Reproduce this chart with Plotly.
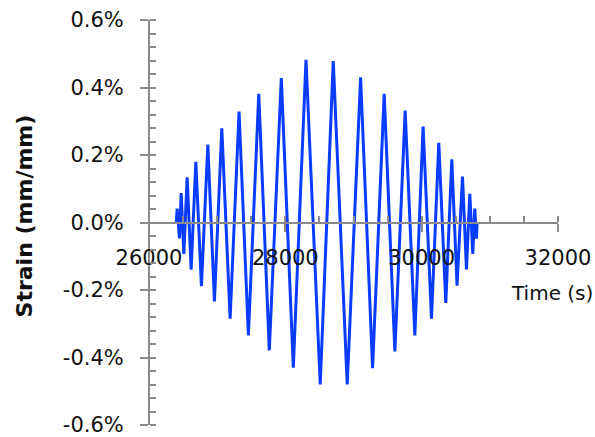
import plotly.graph_objects as go

# ---- data ----
time_s = [26400, 26413, 26447, 26472, 26511, 26560, 26618, 26687, 26769, 26863, 26960,
          27068, 27190, 27321, 27458, 27610, 27765, 27941, 28117, 28303, 28512,
          28703, 28908, 29104, 29280, 29450, 29607, 29758, 29900, 30021, 30144,
          30251, 30354, 30442, 30519, 30599, 30657, 30706, 30750, 30779, 30804, 30813]
strain_pct = [0, 0.041, -0.047, 0.087, -0.093, 0.134, -0.14, 0.18, -0.189, 0.231, -0.234,
              0.279, -0.285, 0.329, -0.335, 0.381, -0.379, 0.428, -0.43, 0.482, -0.48,
              0.478, -0.48, 0.43, -0.432, 0.381, -0.382, 0.332, -0.335, 0.284, -0.285,
              0.236, -0.238, 0.187, -0.187, 0.136, -0.139, 0.085, -0.093, 0.041, -0.048, 0.0]

x_tick_vals = [26000, 28000, 30000, 32000]
x_tick_text = ["26000", "28000", "30000", "32000"]
y_tick_vals = [-0.6, -0.4, -0.2, 0.0, 0.2, 0.4, 0.6]
y_tick_text = ["-0.6%", "-0.4%", "-0.2%", "0.0%", "0.2%", "0.4%", "0.6%"]

x_title = "Time (s)"
y_title = "Strain (mm/mm)"

AX = "#8a8a8a"
FONT = "DejaVu Sans"
TXT = "#111111"

fig = go.Figure()
fig.add_trace(go.Scatter(x=time_s, y=strain_pct, mode="lines",
                         line=dict(color="#0a3cff", width=3),
                         showlegend=False, hoverinfo="skip"))
# helper (empty) trace so the overlay axes that draw the inner half of major ticks exist
fig.add_trace(go.Scatter(x=[], y=[], xaxis="x2", yaxis="y2", showlegend=False))

fig.update_layout(
    width=595, height=437,
    margin=dict(l=149, r=37, t=20, b=12, autoexpand=False),
    paper_bgcolor="white", plot_bgcolor="white",
    font=dict(family=FONT, size=21, color=TXT),
    xaxis=dict(range=[26000, 32000], anchor="free", position=0.5, automargin=False,
               showline=True, linecolor=AX, linewidth=2,
               showgrid=False, zeroline=False,
               tickvals=x_tick_vals, ticktext=x_tick_text,
               ticks="outside", ticklen=8, tickwidth=2, tickcolor=AX,
               ticklabelstandoff=8, ticklabeloverflow="allow",
               tickfont=dict(family=FONT, size=21, color=TXT),
               minor=dict(dtick=500, tick0=26000, ticks="inside", ticklen=6,
                          tickwidth=2, tickcolor=AX, showgrid=False)),
    yaxis=dict(range=[-0.6, 0.6], anchor="free", position=0, automargin=False,
               showline=True, linecolor=AX, linewidth=2,
               showgrid=False, zeroline=False,
               tickvals=y_tick_vals, ticktext=y_tick_text,
               ticks="outside", ticklen=8, tickwidth=2, tickcolor=AX,
               ticklabelstandoff=12, ticklabeloverflow="allow",
               tickfont=dict(family=FONT, size=21, color=TXT),
               minor=dict(dtick=0.04, tick0=0, ticks="inside", ticklen=6,
                          tickwidth=2, tickcolor=AX, showgrid=False)),
    xaxis2=dict(range=[26000, 32000], overlaying="x", anchor="free", position=0.5,
                automargin=False,
                showline=False, showgrid=False, zeroline=False,
                tickvals=x_tick_vals, showticklabels=False,
                ticks="inside", ticklen=7, tickwidth=2, tickcolor=AX),
    yaxis2=dict(range=[-0.6, 0.6], overlaying="y", anchor="free", position=0,
                automargin=False,
                showline=False, showgrid=False, zeroline=False,
                tickvals=y_tick_vals, showticklabels=False,
                ticks="inside", ticklen=6, tickwidth=2, tickcolor=AX),
    annotations=[
        dict(text=y_title, xref="paper", yref="paper", x=-0.3056, y=0.515,
             textangle=-90, showarrow=False, xanchor="center", yanchor="middle",
             font=dict(family=FONT, size=22, color=TXT, weight="bold")),
        dict(text=x_title, xref="paper", yref="paper", x=0.986, y=0.325,
             showarrow=False, xanchor="center", yanchor="middle",
             font=dict(family=FONT, size=20, color=TXT)),
    ],
)

fig.write_html("out.html", config={"displayModeBar": False},
               post_script="document.body.style.margin='0';document.body.style.overflow='hidden';")
